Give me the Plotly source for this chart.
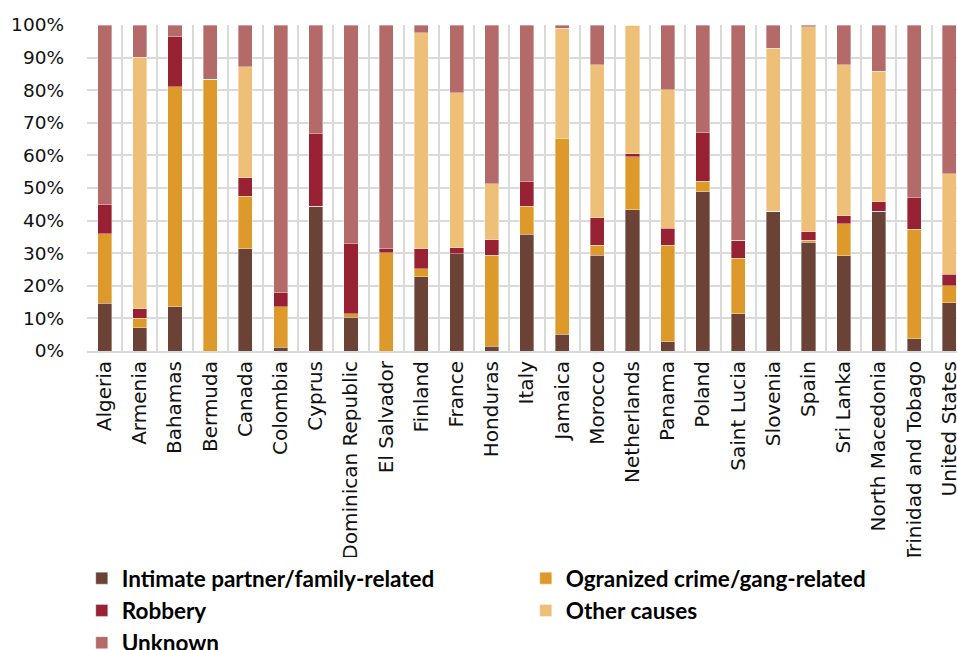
import plotly.graph_objects as go

countries = ["Algeria", "Armenia", "Bahamas", "Bermuda", "Canada", "Colombia", "Cyprus",
             "Dominican Republic", "El Salvador", "Finland", "France", "Honduras", "Italy",
             "Jamaica", "Morocco", "Netherlands", "Panama", "Poland", "Saint Lucia", "Slovenia",
             "Spain", "Sri Lanka", "North Macedonia", "Trinidad and Tobago", "United States"]

intimate = [14.7, 7.1, 13.5, 0, 31.3, 1.2, 44.4, 10.4, 0, 22.8, 29.9, 1.5, 35.8, 5.2, 29.3,
            43.3, 2.8, 48.9, 11.4, 42.9, 33.3, 29.2, 42.9, 3.8, 14.8]
organized = [21.3, 2.9, 67.6, 83.4, 16.1, 12.4, 0, 1.0, 30.2, 2.5, 0, 27.8, 8.6, 59.9, 3.1,
             16.3, 29.7, 3.2, 17.0, 0, 0.7, 9.8, 0, 33.6, 5.2]
robbery = [8.8, 2.9, 15.3, 0, 5.8, 4.2, 22.2, 21.5, 1.1, 6.0, 1.8, 4.8, 7.5, 0, 8.4,
           0.9, 5.2, 14.8, 5.6, 0, 2.6, 2.5, 2.9, 9.6, 3.6]
other = [0, 77.2, 0, 0, 34.0, 0, 0, 0, 0, 66.3, 47.5, 17.2, 0, 33.9, 47.0,
         39.5, 42.5, 0, 0, 49.9, 62.9, 46.3, 40.0, 0, 30.7]
unknown = [55.2, 9.9, 3.6, 16.6, 12.8, 82.2, 33.4, 67.1, 68.7, 2.4, 20.8, 48.7, 48.1, 1.0, 12.2,
           0, 19.8, 33.1, 66.0, 7.2, 0.5, 12.2, 14.2, 53.0, 45.7]

series = [
    ("Intimate partner/family-related", intimate, "#6A4236"),
    ("Ogranized crime/gang-related", organized, "#DD9A2B"),
    ("Robbery", robbery, "#982233"),
    ("Other causes", other, "#EEBF77"),
    ("Unknown", unknown, "#B46A69"),
]

fig = go.Figure()
for name, vals, color in series:
    fig.add_trace(go.Bar(
        name=name, x=countries, y=vals, width=0.4,
        marker=dict(color=color, line=dict(color="rgba(255,255,255,0.45)", width=0.8)),
    ))

fig.update_layout(
    width=957, height=650,
    barmode="stack",
    plot_bgcolor="white", paper_bgcolor="white",
    margin=dict(l=87, r=0, t=25, b=299, autoexpand=False),
    font=dict(family="DejaVu Sans", size=18, color="#111111"),
    showlegend=True,
    legend=dict(
        orientation="h", x=-0.006, xanchor="left", y=-0.632, yanchor="top",
        entrywidth=399, entrywidthmode="pixels",
        font=dict(family="Lato", size=22.5, color="#000000", weight="bold"),
        traceorder="normal",
    ),
    xaxis=dict(
        type="category", range=[-0.5, 24.22], tickangle=-90, automargin=False,
        tickson="boundaries", showgrid=True, gridcolor="#DADADA", gridwidth=2,
        ticks="", showline=True, linecolor="#DADADA", linewidth=2,
        tickfont=dict(family="DejaVu Sans", size=20, color="#111111"),
    ),
    yaxis=dict(
        range=[0, 100], dtick=10, ticksuffix="%", showgrid=True, automargin=False,
        gridcolor="#DADADA", gridwidth=2, zeroline=False, ticks="",
        ticklabelstandoff=22,
        tickfont=dict(family="DejaVu Sans", size=18.5, color="#111111"),
    ),
)

fig.write_html(
    "out.html",
    config={"displayModeBar": False},
    post_script="document.body.style.margin='0px';document.body.style.overflow='hidden';",
)
